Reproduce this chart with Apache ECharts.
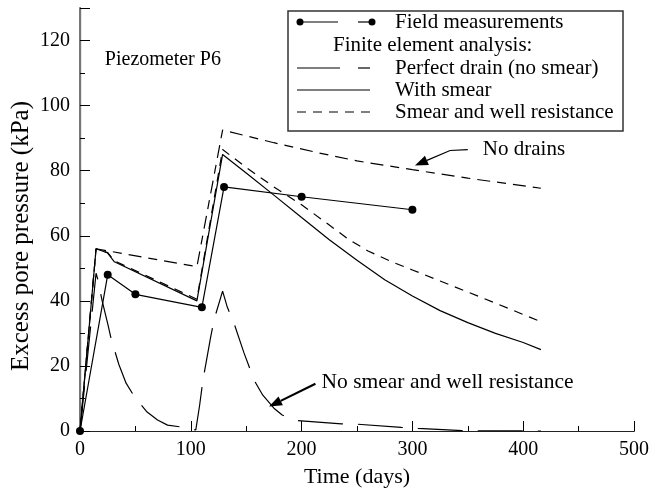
<!DOCTYPE html>
<html>
<head>
<meta charset="utf-8">
<script src="https://cdn.jsdelivr.net/npm/echarts@6/dist/echarts.min.js"></script>
<style>
  html, body { margin: 0; padding: 0; background: #fff; }
  #chart { width: 652px; height: 494px; }
</style>
</head>
<body>
<div id="chart"></div>
<script>
const FONT = '"Liberation Serif", "Times New Roman", serif';

// Field measurements, piezometer P6
const fieldDays = [0, 25, 50, 110, 130, 200, 300];
const fieldKpa  = [0, 48, 42, 38, 75, 72, 68];

// Finite element analysis: perfect drain (no smear)
const perfectDays = [0, 14.5, 16, 20, 25, 28, 35, 41.6, 49, 60, 70, 79, 94, 104.5, 108, 111, 118, 121, 128.7, 133, 138.5, 148, 152.6, 157, 165, 175, 182.5, 196, 236, 250, 290, 305, 345, 416];
const perfectKpa  = [0, 48.5, 46.7, 40, 33, 28.5, 20.5, 14.7, 10.6, 6, 3.4, 1.8, 1.1, 0.3, 8, 15.7, 29, 34.2, 43, 38, 33.6, 24, 19.8, 15.7, 11, 7, 4.9, 3.2, 2.2, 2.1, 1.1, 0.8, 0.1, 0];

// Finite element analysis: with smear
const smearDays = [0, 14.5, 25, 31, 105.5, 128.7, 150, 175, 200, 225, 250, 275, 300, 325, 350, 375, 400, 416];
const smearKpa  = [0, 56, 54.7, 52, 40, 85, 79.3, 72.5, 65.6, 58.8, 52.5, 46.5, 41.5, 37, 33.3, 30, 27.2, 25];

// Finite element analysis: smear and well resistance
const wellDays = [0, 14.5, 25, 31, 105.5, 128.7, 150, 175, 200, 225, 242, 260, 280, 300, 325, 350, 375, 400, 416];
const wellKpa  = [0, 56, 54.8, 52.3, 40.5, 86.5, 81, 75, 69.5, 63.3, 59, 55.3, 52.2, 49.5, 46.1, 42.7, 39.3, 35.8, 33.6];

// No drains
const noDrainDays = [0, 14.5, 105.5, 128.7, 175, 215, 250, 300, 350, 416];
const noDrainKpa  = [0, 56, 50.5, 92.5, 88.6, 85.5, 83, 80.3, 77.7, 74.6];

// Axis ticks
const xTicks = { min: 0, max: 500, step: 100 };
const yTicks = { min: 0, max: 130, step: 20 };

const zip = (xs, ys) => xs.map((x, i) => [x, ys[i]]);

const chart = echarts.init(document.getElementById('chart'), null, { renderer: 'canvas' });

const thin = 1.2;
const lineSeries = (name, xs, ys, type, extra) => Object.assign({
  name, type: 'line', data: zip(xs, ys), showSymbol: false, symbol: 'none',
  lineStyle: { color: '#000', width: thin, type: type },
  animation: false, silent: true, z: 3
}, extra || {});

const axisCommon = {
  axisLine: { show: true, lineStyle: { color: '#000', width: 1.2 } },
  axisTick: { show: true, inside: true, length: 10, lineStyle: { color: '#000', width: 1 } },
  minorTick: { show: true, splitNumber: 2, length: 5, lineStyle: { color: '#000', width: 1 } },
  splitLine: { show: false },
  minorSplitLine: { show: false }
};

chart.setOption({
  animation: false,
  backgroundColor: '#fff',
  grid: { left: 80, top: 8, right: 15, bottom: 63, containLabel: false },
  xAxis: [
    Object.assign({
      type: 'value', min: xTicks.min, max: xTicks.max, interval: xTicks.step,
      name: 'Time (days)', nameLocation: 'middle', nameGap: 35,
      nameTextStyle: { fontFamily: FONT, fontSize: 22, color: '#000' },
      axisLabel: { fontFamily: FONT, fontSize: 20, color: '#000', margin: 9 }
    }, axisCommon),
    {
      type: 'value', position: 'top', min: xTicks.min, max: xTicks.max,
      axisLine: { show: true, lineStyle: { color: '#222', width: 1.2 } },
      axisTick: { show: false }, axisLabel: { show: false }, splitLine: { show: false }
    }
  ],
  yAxis: [
    Object.assign({
      type: 'value', min: yTicks.min, max: yTicks.max, interval: yTicks.step,
      axisLabel: {
        fontFamily: FONT, fontSize: 20, color: '#000', margin: 10,
        formatter: v => (v % yTicks.step === 0 && v <= 120) ? String(v) : ''
      }
    }, axisCommon),
    {
      type: 'value', position: 'right', min: yTicks.min, max: yTicks.max,
      axisLine: { show: true, lineStyle: { color: '#777', width: 2 } },
      axisTick: { show: false }, axisLabel: { show: false }, splitLine: { show: false }
    }
  ],
  series: [
    lineSeries('No drains', noDrainDays, noDrainKpa, [13, 7, 9, 7]),
    lineSeries('Perfect drain (no smear)', perfectDays, perfectKpa, [45, 15]),
    lineSeries('With smear', smearDays, smearKpa, 'solid'),
    lineSeries('Smear and well resistance', wellDays, wellKpa, [9, 7]),
    {
      name: 'Field measurements', type: 'line', data: zip(fieldDays, fieldKpa),
      symbol: 'circle', symbolSize: 8, showSymbol: true,
      itemStyle: { color: '#000' },
      lineStyle: { color: '#000', width: thin },
      animation: false, silent: true, z: 4
    }
  ]
});

// Annotations placed in data coordinates
const toPx = p => chart.convertToPixel({ xAxisIndex: 0, yAxisIndex: 0 }, p);

function arrow(points, width) {
  const px = points.map(toPx);
  const n = px.length;
  const tip = px[n - 1], prev = px[n - 2];
  const dx = tip[0] - prev[0], dy = tip[1] - prev[1];
  const len = Math.hypot(dx, dy);
  const ux = dx / len, uy = dy / len;
  const headL = 13, headW = 5;
  const base = [tip[0] - ux * headL, tip[1] - uy * headL];
  const shaft = px.slice(0, n - 1).concat([base]);
  return [
    { type: 'polyline', shape: { points: shaft }, style: { stroke: '#000', lineWidth: width, fill: null }, z: 10 },
    { type: 'polygon', shape: { points: [tip, [base[0] - uy * headW, base[1] + ux * headW], [base[0] + uy * headW, base[1] - ux * headW]] },
      style: { fill: '#000' }, z: 10 }
  ];
}

const noDrainsArrow = [[350, 86.5], [334, 86.2], [302.3, 81.6]];
const noSmearArrow = [[212.5, 14.5], [170.6, 7.5]];

const txt = (x, y, s, size, extra) => ({
  type: 'text', x, y, z: 10,
  style: Object.assign({ text: s, fontFamily: FONT, fontSize: size, fill: '#000', align: 'left', verticalAlign: 'middle' }, extra || {})
});

const pz = toPx([22.4, 114.2]);
const nd = toPx([363.6, 86.5]);
const ns = toPx([218, 14.8]);

// Legend box
const legendX = 288, legendY = 11, legendW = 335, legendH = 120;
const rowY = [22, 45, 68, 90, 112];
const sx0 = 297, sx1 = 370, tx = 395, lf = 21;

const legend = [
  { type: 'rect', shape: { x: legendX, y: legendY, width: legendW, height: legendH }, style: { fill: '#fff', stroke: '#333', lineWidth: 1.5 }, z: 20 },
  // field measurements sample
  { type: 'line', shape: { x1: sx0 + 3, y1: rowY[0], x2: 338, y2: rowY[0] }, style: { stroke: '#000', lineWidth: thin }, z: 21 },
  { type: 'line', shape: { x1: 358, y1: rowY[0], x2: sx1, y2: rowY[0] }, style: { stroke: '#000', lineWidth: thin }, z: 21 },
  { type: 'circle', shape: { cx: sx0 + 3, cy: rowY[0], r: 3.5 }, style: { fill: '#000' }, z: 22 },
  { type: 'circle', shape: { cx: sx1 + 2, cy: rowY[0], r: 3.5 }, style: { fill: '#000' }, z: 22 },
  Object.assign(txt(tx, rowY[0], 'Field measurements', lf), { z: 21 }),
  Object.assign(txt(333, rowY[1], 'Finite element analysis:', lf), { z: 21 }),
  // perfect drain sample
  { type: 'line', shape: { x1: sx0, y1: rowY[2], x2: 340, y2: rowY[2] }, style: { stroke: '#000', lineWidth: thin }, z: 21 },
  { type: 'line', shape: { x1: 358, y1: rowY[2], x2: sx1, y2: rowY[2] }, style: { stroke: '#000', lineWidth: thin }, z: 21 },
  Object.assign(txt(tx, rowY[2], 'Perfect drain (no smear)', lf), { z: 21 }),
  // with smear sample
  { type: 'line', shape: { x1: sx0, y1: rowY[3], x2: sx1, y2: rowY[3] }, style: { stroke: '#000', lineWidth: thin }, z: 21 },
  Object.assign(txt(tx, rowY[3], 'With smear', lf), { z: 21 }),
  // smear and well resistance sample
  { type: 'line', shape: { x1: sx0, y1: rowY[4], x2: sx1, y2: rowY[4] }, style: { stroke: '#000', lineWidth: thin, lineDash: [9, 7] }, z: 21 },
  Object.assign(txt(tx, rowY[4], 'Smear and well resistance', lf), { z: 21 })
];

chart.setOption({
  graphic: [].concat(
    [txt(pz[0], pz[1], 'Piezometer P6', 20)],
    [txt(nd[0], nd[1], 'No drains', 21)],
    [txt(ns[0], ns[1], 'No smear and well resistance', 21.5)],
    arrow(noDrainsArrow, 1.2),
    arrow(noSmearArrow, 2.2),
    [{ type: 'text', x: 21, y: 236, rotation: Math.PI / 2, z: 10,
       style: { text: 'Excess pore pressure (kPa)', fontFamily: FONT, fontSize: 25, fill: '#000', align: 'center', verticalAlign: 'middle' } }],
    legend
  )
});
</script>
</body>
</html>
